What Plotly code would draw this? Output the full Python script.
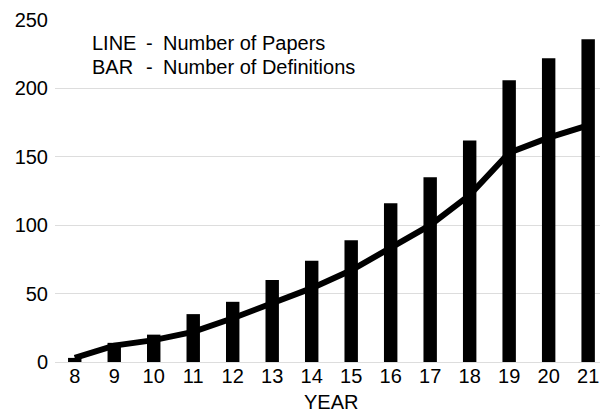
import plotly.graph_objects as go

years = [8, 9, 10, 11, 12, 13, 14, 15, 16, 17, 18, 19, 20, 21]
definitions = [3, 14, 20, 35, 44, 60, 74, 89, 116, 135, 162, 206, 222, 236]
papers = [3, 12, 16, 22, 32, 43, 54, 67, 84, 100, 122, 153, 164, 173]
y_ticks = [0, 50, 100, 150, 200, 250]

font = dict(family="Liberation Sans, Arial, sans-serif", size=20, color="#000000")

L, R, T, B = 55, 0, 20, 51
W, H = 600, 413
PW, PH = W - L - R, H - T - B

def px(x):
    return (x - L) / PW

def py(y):
    return (H - B - y) / PH

fig = go.Figure()
fig.add_trace(go.Bar(x=years, y=definitions, marker=dict(color="#000000", line=dict(width=0)),
                     width=0.34, showlegend=False))
fig.add_trace(go.Scatter(x=years, y=papers, mode="lines",
                         line=dict(color="#000000", width=6), showlegend=False))

fig.update_layout(
    width=W, height=H,
    margin=dict(l=L, r=R, t=T, b=B, autoexpand=False),
    plot_bgcolor="white", paper_bgcolor="white",
    font=font,
    xaxis=dict(range=[7.5, 21.3], tickvals=years, ticktext=[str(v) for v in years],
               showgrid=False, zeroline=False, showline=False, ticks="",
               automargin=False),
    yaxis=dict(range=[0, 250], tickvals=y_ticks, showgrid=True, gridcolor="#dddddd",
               gridwidth=1, zeroline=True, zerolinecolor="#dddddd", zerolinewidth=1,
               showline=False, ticks="", ticklabelstandoff=6, automargin=False),
)

rows = [("LINE", "Number of Papers"), ("BAR", "Number of Definitions")]
for i, (k, d) in enumerate(rows):
    yy = 42.7 + 24 * i
    for xx, t in ((90, k), (144, "-"), (161, d)):
        fig.add_annotation(x=px(xx), y=py(yy), xref="paper", yref="paper", text=t,
                           showarrow=False, xanchor="left", yanchor="middle", font=font)

fig.add_annotation(x=px(331), y=py(402), xref="paper", yref="paper", text="YEAR",
                   showarrow=False, xanchor="center", yanchor="middle", font=font)

fig.write_html("out.html", config={"displayModeBar": False},
               post_script="document.body.style.margin='0';document.body.style.overflow='hidden';")
